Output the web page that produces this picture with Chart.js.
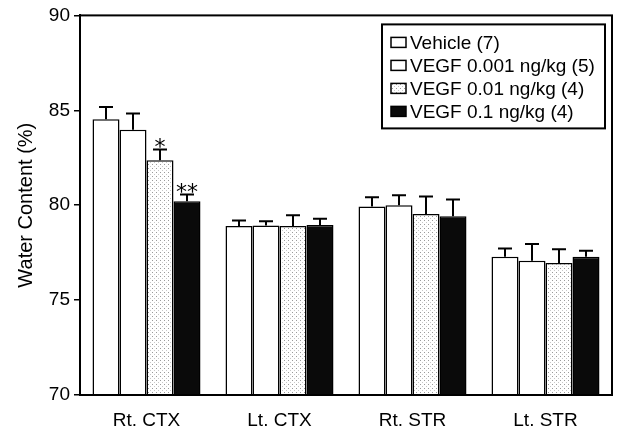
<!DOCTYPE html>
<html>
<head>
<meta charset="utf-8">
<script src="https://cdn.jsdelivr.net/npm/chart.js@4"></script>
<style>
  html, body { margin: 0; padding: 0; background: #fff; }
  #wrap { width: 617px; height: 433px; }
</style>
</head>
<body>
<div id="wrap"><canvas id="c" width="617" height="433"></canvas></div>
<script>
// ---- data ----
const categories = ['Rt. CTX', 'Lt. CTX', 'Rt. STR', 'Lt. STR'];
const seriesLabels = ['Vehicle (7)', 'VEGF 0.001 ng/kg (5)', 'VEGF 0.01 ng/kg (4)', 'VEGF 0.1 ng/kg (4)'];
const vehicle = [84.53, 78.91, 79.93, 77.28];
const vehicleErr = [0.64, 0.28, 0.49, 0.44];
const vegf0001 = [83.98, 78.93, 80.0, 77.07];
const vegf0001Err = [0.85, 0.23, 0.53, 0.88];
const vegf001 = [82.37, 78.90, 79.54, 76.96];
const vegf001Err = [0.56, 0.57, 0.92, 0.72];
const vegf01 = [80.21, 78.96, 79.42, 77.28];
const vegf01Err = [0.35, 0.33, 0.88, 0.32];
const vegf001Marks = ['*', '', '', ''];
const vegf01Marks = ['**', '', '', ''];
const yTicks = [70, 75, 80, 85, 90];
const yTitle = 'Water Content (%)';

// ---- patterns ----
function dotPattern() {
  const c = document.createElement('canvas');
  c.width = 4; c.height = 4;
  const g = c.getContext('2d');
  g.fillStyle = '#ffffff'; g.fillRect(0, 0, 4, 4);
  g.fillStyle = '#9a9a9a';
  g.fillRect(0, 0, 1, 1);
  g.fillStyle = '#c8c8c8';
  g.fillRect(2, 2, 1, 1);
  return g.createPattern(c, 'repeat');
}
const ctx = document.getElementById('c').getContext('2d');
const fills = ['#ffffff', '#ffffff', dotPattern(), '#0a0a0a'];

const seriesValues = [vehicle, vegf0001, vegf001, vegf01];
const seriesErrors = [vehicleErr, vegf0001Err, vegf001Err, vegf01Err];
const seriesMarks = [null, null, vegf001Marks, vegf01Marks];

Chart.defaults.font.family = '"Liberation Sans", Arial, sans-serif';
Chart.defaults.color = '#000';

const frame = {
  id: 'frame',
  afterDraw(chart) {
    const { ctx, chartArea: a } = chart;
    ctx.save();
    ctx.strokeStyle = '#000';
    ctx.lineWidth = 2;
    ctx.strokeRect(a.left, a.top, a.right - a.left, a.bottom - a.top);
    ctx.restore();
  }
};

const errorBars = {
  id: 'errorBars',
  afterDatasetsDraw(chart) {
    const { ctx } = chart;
    const ys = chart.scales.y;
    ctx.save();
    ctx.strokeStyle = '#000';
    ctx.lineWidth = 2;
    chart.data.datasets.forEach((ds, i) => {
      const meta = chart.getDatasetMeta(i);
      meta.data.forEach((bar, j) => {
        const v = ds.data[j];
        const e = ds.errors[j];
        const yTop = ys.getPixelForValue(v);
        const yCap = ys.getPixelForValue(v + e);
        ctx.beginPath();
        ctx.moveTo(bar.x, yTop);
        ctx.lineTo(bar.x, yCap);
        ctx.moveTo(bar.x - 7, yCap);
        ctx.lineTo(bar.x + 7, yCap);
        ctx.stroke();
        if (ds.marks && ds.marks[j]) {
          ctx.fillStyle = '#000';
          ctx.font = '22px "DejaVu Sans", sans-serif';
          ctx.textAlign = 'center';
          ctx.textBaseline = 'alphabetic';
          ctx.fillText(ds.marks[j], bar.x, yCap + 4);
        }
      });
    });
    ctx.restore();
  }
};

const boxLegend = {
  id: 'boxLegend',
  afterDraw(chart) {
    const { ctx, chartArea: a } = chart;
    const right = a.right - 7, top = a.top + 9;
    const width = 223, rowH = 23, height = 104;
    const left = right - width;
    ctx.save();
    ctx.fillStyle = '#fff';
    ctx.fillRect(left, top, width, height);
    ctx.strokeStyle = '#000';
    ctx.lineWidth = 2;
    ctx.strokeRect(left, top, width, height);
    ctx.font = '19px "Liberation Sans", Arial, sans-serif';
    ctx.textBaseline = 'middle';
    ctx.textAlign = 'left';
    chart.data.datasets.forEach((ds, i) => {
      const cy = top + 18 + i * rowH;
      ctx.fillStyle = ds.backgroundColor;
      ctx.fillRect(left + 9, cy - 5, 15, 10);
      ctx.lineWidth = 1.5;
      ctx.strokeRect(left + 9, cy - 5, 15, 10);
      ctx.fillStyle = '#000';
      ctx.fillText(ds.label, left + 28, cy + 1);
    });
    ctx.restore();
  }
};

new Chart(ctx, {
  type: 'bar',
  data: {
    labels: categories,
    datasets: seriesLabels.map((lab, i) => ({
      label: lab,
      data: seriesValues[i],
      errors: seriesErrors[i],
      marks: seriesMarks[i],
      backgroundColor: fills[i],
      borderColor: '#000',
      borderWidth: 1.5,
      barPercentage: 1.0,
      categoryPercentage: 0.812
    }))
  },
  options: {
    responsive: false,
    animation: false,
    layout: { padding: { top: 15, right: 5, left: 0, bottom: 0 } },
    plugins: { legend: { display: false }, tooltip: { enabled: false } },
    scales: {
      x: {
        grid: { display: false, drawTicks: false },
        border: { display: true, color: '#000', width: 2 },
        ticks: { font: { size: 19 }, padding: 14, color: '#000' },
        afterFit(scale) { scale.height = 38; }
      },
      y: {
        min: 70, max: 90,
        afterBuildTicks(scale) { scale.ticks = yTicks.map(v => ({ value: v })); },
        grid: { drawOnChartArea: false, drawTicks: true, tickLength: 6, color: '#000', lineWidth: 1.5 },
        border: { display: true, color: '#000', width: 2 },
        ticks: { font: { size: 19 }, padding: 4, color: '#000' },
        title: { display: true, text: yTitle, font: { size: 20 }, padding: { top: 14, bottom: 0 }, color: '#000' },
        afterFit(scale) { scale.width = 80; }
      }
    }
  },
  plugins: [frame, errorBars, boxLegend]
});
</script>
</body>
</html>
